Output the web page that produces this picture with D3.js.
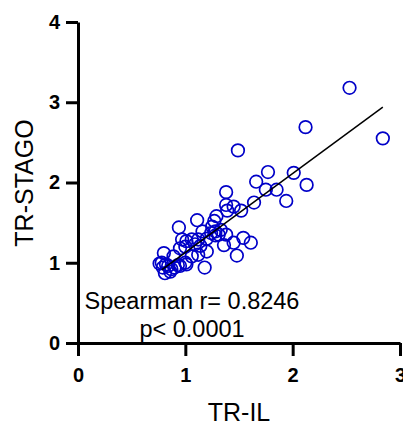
<!DOCTYPE html>
<html>
<head>
<meta charset="utf-8">
<script src="https://cdn.jsdelivr.net/npm/d3@7"></script>
<style>
  body { margin: 0; background: #fff; }
  svg { display: block; font-family: "Liberation Sans", Arial, sans-serif; }
</style>
</head>
<body>
<svg id="chart" width="403" height="426"></svg>
<script>
// values
var trIL = [2.53, 2.84, 2.12, 1.49, 1.77, 2.01, 1.66, 2.13, 1.75, 1.85, 1.38, 1.94, 1.64,
  1.38, 1.45, 1.39, 1.52, 1.29, 1.11, 1.27, 1.25, 0.94,
  1.38, 1.28, 1.31, 1.24, 1.28, 1.16, 1.54, 1.61, 1.45, 1.36, 1.48,
  1.12, 1.06, 1.01, 0.97, 1.09, 1.00, 0.95, 1.20, 1.12, 1.06, 0.89, 0.80,
  1.18, 1.01, 0.95, 0.90, 0.86, 0.84, 0.78, 0.81, 0.87, 0.76, 0.82, 0.93, 1.00, 0.79,
  1.14, 1.20, 1.33];
var trSTAGO = [3.18, 2.55, 2.69, 2.40, 2.13, 2.12, 2.01, 1.97, 1.91, 1.91, 1.88, 1.77, 1.75,
  1.72, 1.70, 1.65, 1.65, 1.58, 1.53, 1.52, 1.45, 1.44,
  1.35, 1.34, 1.35, 1.37, 1.39, 1.39, 1.31, 1.25, 1.25, 1.22, 1.09,
  1.29, 1.29, 1.27, 1.29, 1.23, 1.20, 1.18, 1.14, 1.10, 1.08, 1.08, 1.12,
  0.94, 0.98, 0.96, 0.94, 0.89, 0.96, 1.00, 0.87, 0.92, 0.99, 0.98, 0.97, 1.00, 0.94,
  1.21, 1.30, 1.41];
var fitX = [0.78, 2.84];
var fitY = [0.91, 2.94];
var xTicks = [0, 1, 2, 3];
var yTicks = [0, 1, 2, 3, 4];
var statLines = ["Spearman r= 0.8246", "p< 0.0001"];

var svg = d3.select("#chart");

var x = d3.scaleLinear().domain([0, 3]).range([78, 400]);
var y = d3.scaleLinear().domain([0, 4]).range([343, 22]);

var points = trIL.map(function(d, i) { return {x: d, y: trSTAGO[i]}; });

// points
svg.append("g").selectAll("circle")
  .data(points)
  .enter().append("circle")
  .attr("cx", function(d) { return x(d.x); })
  .attr("cy", function(d) { return y(d.y); })
  .attr("r", 6.3)
  .style("fill", "none")
  .style("stroke", "#0000c8")
  .style("stroke-width", 1.7);

// fit line
svg.append("line")
  .attr("x1", x(fitX[0])).attr("y1", y(fitY[0]))
  .attr("x2", x(fitX[1])).attr("y2", y(fitY[1]))
  .style("stroke", "#000")
  .style("stroke-width", 1.5);

// axes
var xAxis = svg.append("g")
  .attr("transform", "translate(0," + y(0) + ")")
  .call(d3.axisBottom(x).tickValues(xTicks).tickFormat(d3.format("d"))
    .tickSize(13).tickSizeOuter(0).tickPadding(12));

var yAxis = svg.append("g")
  .attr("transform", "translate(" + x(0) + ",0)")
  .call(d3.axisLeft(y).tickValues(yTicks).tickFormat(d3.format("d"))
    .tickSize(12).tickSizeOuter(0).tickPadding(6));

[xAxis, yAxis].forEach(function(g) {
  g.select(".domain").style("stroke", "#000").style("stroke-width", 3);
  g.selectAll(".tick line").style("stroke", "#000").style("stroke-width", 3);
  g.selectAll(".tick text")
    .style("font-family", "'Liberation Sans', Arial, sans-serif")
    .style("font-size", "20px")
    .style("font-weight", "bold")
    .style("fill", "#000");
});

// axis titles
svg.append("text")
  .attr("x", 239).attr("y", 421)
  .attr("text-anchor", "middle")
  .style("font-size", "25px")
  .text("TR-IL");

svg.append("text")
  .attr("transform", "translate(33,183) rotate(-90)")
  .attr("text-anchor", "middle")
  .style("font-size", "25px")
  .text("TR-STAGO");

// stats
svg.append("g").selectAll("text")
  .data(statLines)
  .enter().append("text")
  .attr("x", 192)
  .attr("y", function(d, i) { return 309 + i * 28; })
  .attr("text-anchor", "middle")
  .style("font-size", "23.5px")
  .text(function(d) { return d; });
</script>
</body>
</html>
